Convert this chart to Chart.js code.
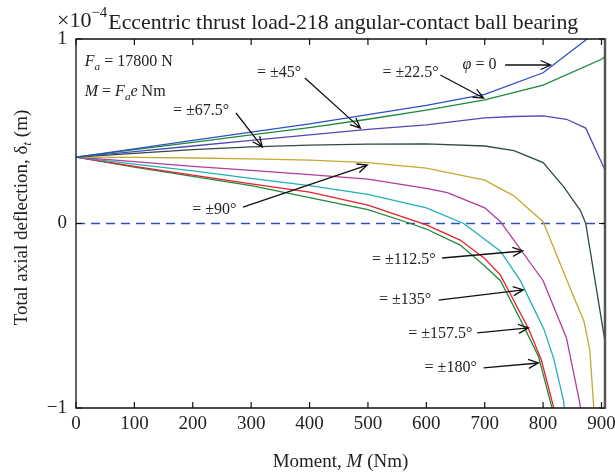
<!DOCTYPE html>
<html lang="en">
<head>
<meta charset="UTF-8">
<title>Eccentric thrust load - 218 angular-contact ball bearing</title>
<script src="https://cdn.jsdelivr.net/npm/chart.js"></script>
<style>
  body { margin: 0; background: #fff; }
  canvas { display: block; }
</style>
</head>
<body>
<canvas id="deflectionChart" width="615" height="474"></canvas>
<script>
// Moment M (Nm) and total axial deflection (units of 1e-4 m), one pair per load angle
const mPhi0 = [0, 100, 200, 300, 400, 500, 600, 700, 800, 900];
const dPhi0 = [0.36, 0.405, 0.45, 0.495, 0.54, 0.59, 0.64, 0.70, 0.817, 1.06];

const mPhi22 = [0, 100, 200, 300, 400, 500, 600, 700, 800, 900, 906];
const dPhi22 = [0.36, 0.40, 0.44, 0.48, 0.52, 0.565, 0.615, 0.67, 0.75, 0.89, 0.905];

const mPhi45 = [0, 100, 200, 300, 400, 500, 600, 700, 750, 800, 840, 873, 906];
const dPhi45 = [0.36, 0.39, 0.42, 0.45, 0.48, 0.51, 0.535, 0.572, 0.58, 0.583, 0.565, 0.517, 0.29];

const mPhi67 = [0, 100, 200, 300, 400, 500, 600, 700, 750, 800, 835, 864, 873, 906];
const dPhi67 = [0.36, 0.38, 0.40, 0.415, 0.425, 0.43, 0.432, 0.42, 0.395, 0.33, 0.2, 0.07, 0, -0.64];

const mPhi90 = [0, 100, 200, 300, 400, 500, 600, 700, 750, 800, 850, 870, 880, 887];
const dPhi90 = [0.36, 0.358, 0.355, 0.35, 0.343, 0.33, 0.30, 0.235, 0.15, 0.01, -0.38, -0.53, -0.685, -1.01];

const mPhi112 = [0, 100, 200, 300, 400, 500, 600, 636, 700, 727, 800, 840, 862, 865];
const dPhi112 = [0.36, 0.335, 0.31, 0.288, 0.265, 0.24, 0.19, 0.167, 0.085, 0.01, -0.31, -0.62, -0.96, -1.02];

const mPhi135 = [0, 100, 200, 300, 400, 500, 600, 664, 727, 761, 801, 818, 835, 837];
const dPhi135 = [0.36, 0.322, 0.285, 0.245, 0.205, 0.158, 0.085, 0, -0.15, -0.31, -0.57, -0.73, -0.96, -1.02];

const mPhi157 = [0, 100, 200, 300, 400, 500, 600, 658, 700, 727, 775, 797, 815, 820];
const dPhi157 = [0.36, 0.31, 0.262, 0.215, 0.17, 0.10, -0.007, -0.09, -0.19, -0.28, -0.57, -0.74, -0.96, -1.02];

const mPhi180 = [0, 100, 200, 300, 400, 500, 573, 600, 658, 700, 727, 761, 792, 812, 817];
const dPhi180 = [0.36, 0.305, 0.255, 0.205, 0.14, 0.075, 0, -0.03, -0.117, -0.23, -0.31, -0.52, -0.72, -0.96, -1.02];

const zeroM = [0, 906];
const zeroD = [0, 0];

const xTicks = [0, 100, 200, 300, 400, 500, 600, 700, 800, 900];
const yTicks = [-1, 0, 1];

const SERIF = '"Liberation Serif", "DejaVu Serif", serif';

function pts(ms, ds) {
  return ms.map((m, i) => ({ x: m, y: ds[i] }));
}

const series = [
  { m: mPhi0, d: dPhi0, color: '#2f4fc4' },
  { m: mPhi22, d: dPhi22, color: '#1a8a3a' },
  { m: mPhi45, d: dPhi45, color: '#5048b8' },
  { m: mPhi67, d: dPhi67, color: '#2e4a48' },
  { m: mPhi90, d: dPhi90, color: '#c4aa30' },
  { m: mPhi112, d: dPhi112, color: '#b03c9c' },
  { m: mPhi135, d: dPhi135, color: '#20b0b8' },
  { m: mPhi157, d: dPhi157, color: '#e8202a' },
  { m: mPhi180, d: dPhi180, color: '#1f8a3c' }
];

const datasets = series.map(s => ({
  data: pts(s.m, s.d),
  borderColor: s.color,
  borderWidth: 1.3,
  pointRadius: 0,
  tension: 0,
  fill: false
}));
datasets.push({
  data: pts(zeroM, zeroD),
  borderColor: '#3050c0',
  borderWidth: 1.4,
  borderDash: [9, 6],
  pointRadius: 0
});

// callouts: text anchor and arrow given in data units
const notes = [
  { parts: [{ t: '= ±45°' }], at: [310, 0.816], from: [392, 0.789], to: [487, 0.517] },
  { parts: [{ t: '= ±67.5°' }], at: [166, 0.61], from: [274, 0.599], to: [319, 0.415] },
  { parts: [{ t: '= ±90°' }], at: [199, 0.073], from: [286, 0.089], to: [499, 0.317] },
  { parts: [{ t: '= ±22.5°' }], at: [525, 0.816], from: [624, 0.805], to: [698, 0.68] },
  { parts: [{ t: 'φ', it: true }, { t: ' = 0' }], at: [662, 0.859], from: [735, 0.859], to: [813, 0.859] },
  { parts: [{ t: '= ±112.5°' }], at: [507, -0.198], from: [627, -0.187], to: [765, -0.149] },
  { parts: [{ t: '= ±135°' }], at: [519, -0.415], from: [621, -0.415], to: [766, -0.36] },
  { parts: [{ t: '= ±157.5°' }], at: [569, -0.599], from: [687, -0.593], to: [775, -0.566] },
  { parts: [{ t: '= ±180°' }], at: [597, -0.783], from: [698, -0.783], to: [792, -0.756] },
  { parts: [{ t: 'F', it: true }, { t: 'a', it: true, sub: true }, { t: ' = 17800 N' }], at: [15, 0.875] },
  { parts: [{ t: 'M', it: true }, { t: ' = ' }, { t: 'F', it: true }, { t: 'a', it: true, sub: true }, { t: 'e', it: true }, { t: ' Nm' }], at: [15, 0.713] }
];

function richWidth(ctx, parts, size) {
  let w = 0;
  for (const p of parts) {
    const fs = (p.sub || p.sup) ? size * 0.7 : size;
    ctx.font = (p.it ? 'italic ' : '') + fs + 'px ' + SERIF;
    w += ctx.measureText(p.t).width;
  }
  return w;
}

function drawRich(ctx, x, y, parts, size) {
  let cx = x;
  ctx.textBaseline = 'middle';
  ctx.textAlign = 'left';
  for (const p of parts) {
    const fs = (p.sub || p.sup) ? size * 0.7 : size;
    ctx.font = (p.it ? 'italic ' : '') + fs + 'px ' + SERIF;
    const dy = p.sub ? size * 0.3 : (p.sup ? -size * 0.4 : 0);
    ctx.fillText(p.t, cx, y + dy);
    cx += ctx.measureText(p.t).width;
  }
  return cx;
}

function arrow(ctx, x1, y1, x2, y2) {
  const a = Math.atan2(y2 - y1, x2 - x1);
  const len = 11, spread = 0.42;
  ctx.beginPath();
  ctx.moveTo(x1, y1);
  ctx.lineTo(x2, y2);
  ctx.moveTo(x2 - len * Math.cos(a - spread), y2 - len * Math.sin(a - spread));
  ctx.lineTo(x2, y2);
  ctx.lineTo(x2 - len * Math.cos(a + spread), y2 - len * Math.sin(a + spread));
  ctx.stroke();
}

const decorations = {
  id: 'decorations',
  afterDraw(chart) {
    const ctx = chart.ctx;
    const { left, right, top, bottom } = chart.chartArea;
    const xs = chart.scales.x, ys = chart.scales.y;
    ctx.save();

    // axes box
    ctx.strokeStyle = '#111';
    ctx.lineWidth = 1.3;
    ctx.beginPath();
    ctx.moveTo(right, top); ctx.lineTo(left, top); ctx.lineTo(left, bottom); ctx.lineTo(right, bottom);
    ctx.stroke();
    ctx.strokeStyle = '#555';
    ctx.lineWidth = 2.5;
    ctx.beginPath();
    ctx.moveTo(right, top - 1); ctx.lineTo(right, bottom + 1);
    ctx.stroke();

    // inward ticks
    ctx.strokeStyle = '#111';
    ctx.lineWidth = 1.2;
    ctx.beginPath();
    xTicks.forEach(v => {
      const px = xs.getPixelForValue(v);
      ctx.moveTo(px, bottom); ctx.lineTo(px, bottom - 6);
      ctx.moveTo(px, top); ctx.lineTo(px, top + 6);
    });
    yTicks.forEach(v => {
      const py = ys.getPixelForValue(v);
      ctx.moveTo(left, py); ctx.lineTo(left + 6, py);
      ctx.moveTo(right, py); ctx.lineTo(right - 6, py);
    });
    ctx.stroke();

    // callouts
    ctx.fillStyle = '#222';
    ctx.strokeStyle = '#111';
    ctx.lineWidth = 1.3;
    notes.forEach(n => {
      drawRich(ctx, xs.getPixelForValue(n.at[0]), ys.getPixelForValue(n.at[1]), n.parts, 16);
      if (n.from) {
        arrow(ctx, xs.getPixelForValue(n.from[0]), ys.getPixelForValue(n.from[1]),
          xs.getPixelForValue(n.to[0]), ys.getPixelForValue(n.to[1]));
      }
    });

    // title with exponent marker
    ctx.fillStyle = '#222';
    let cx = drawRich(ctx, 57, 21, [{ t: '×10' }], 22);
    cx = drawRich(ctx, cx, 13, [{ t: '−4' }], 15);
    drawRich(ctx, cx + 1, 23, [{ t: 'Eccentric thrust load-218 angular-contact ball bearing' }], 21.8);

    // x axis title
    const xParts = [{ t: 'Moment, ' }, { t: 'M', it: true }, { t: ' (Nm)' }];
    const xw = richWidth(ctx, xParts, 19);
    drawRich(ctx, (left + right) / 2 - xw / 2, 462, xParts, 19);

    // y axis title
    const yParts = [{ t: 'Total axial deflection, δ' }, { t: 't', it: true, sub: true }, { t: ' (m)' }];
    const yw = richWidth(ctx, yParts, 19);
    ctx.translate(22, (top + bottom) / 2 - 6);
    ctx.rotate(-Math.PI / 2);
    drawRich(ctx, -yw / 2, 0, yParts, 19);

    ctx.restore();
  }
};

new Chart(document.getElementById('deflectionChart'), {
  type: 'line',
  data: { datasets: datasets },
  options: {
    responsive: false,
    animation: false,
    layout: { padding: { left: 0, right: 10, top: 39, bottom: 0 } },
    plugins: {
      legend: { display: false },
      tooltip: { enabled: false },
      title: { display: false }
    },
    scales: {
      x: {
        type: 'linear',
        min: 0,
        max: 906,
        grid: { display: false, drawTicks: false },
        border: { display: false },
        ticks: {
          maxRotation: 0,
          autoSkip: false,
          padding: 5,
          color: '#222',
          font: { family: SERIF, size: 19 }
        },
        afterBuildTicks: s => { s.ticks = xTicks.map(v => ({ value: v })); },
        afterFit: s => { s.height = 66; s.paddingLeft = 0; s.paddingRight = 0; }
      },
      y: {
        type: 'linear',
        min: -1,
        max: 1,
        grid: { display: false, drawTicks: false },
        border: { display: false },
        ticks: {
          autoSkip: false,
          padding: 9,
          color: '#222',
          font: { family: SERIF, size: 19 },
          callback: v => (v < 0 ? '−' + Math.abs(v) : String(v))
        },
        afterBuildTicks: s => { s.ticks = yTicks.map(v => ({ value: v })); },
        afterFit: s => { s.width = 76; s.paddingTop = 0; s.paddingBottom = 0; }
      }
    }
  },
  plugins: [decorations]
});
</script>
</body>
</html>
